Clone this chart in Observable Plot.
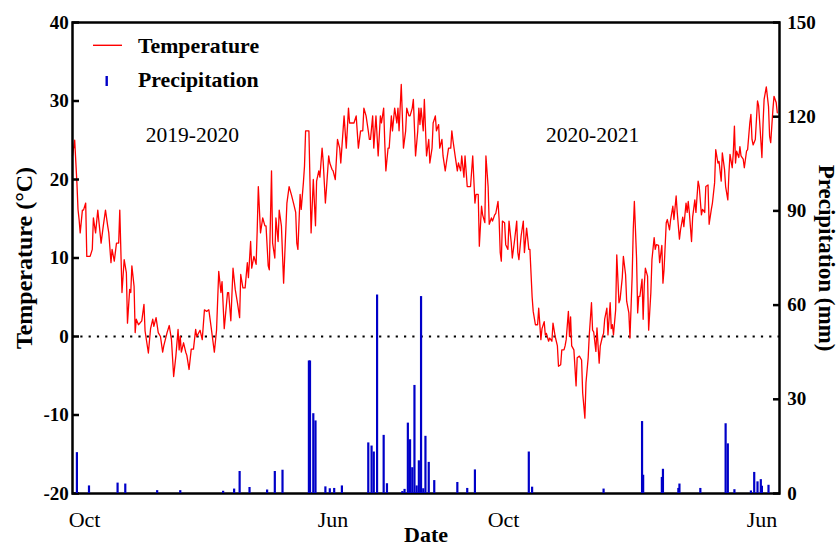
<!DOCTYPE html>
<html><head><meta charset="utf-8">
<script src="https://cdn.jsdelivr.net/npm/d3@7"></script>
<script src="https://cdn.jsdelivr.net/npm/@observablehq/plot@0.6"></script>
<style>
body{margin:0;background:#fff}
#wrap{position:relative;width:840px;height:547px;background:#fff}
#wrap > svg{position:absolute;left:0;top:0}
</style></head><body><div id="wrap"></div>
<script>
// Daily series (day index since start of record)
const tempDay = [0,2,4,5,6,7,9,10,12,13,16,18,19,21,23,26,28,30,32,33,35,36,38,40,42,43,45,47,49,50,52,53,54,56,57,58,60,63,65,66,69,71,73,74,76,78,80,82,83,86,88,90,92,94,96,97,98,99,101,103,104,106,108,110,112,113,116,118,120,122,124,126,129,131,133,135,136,138,141,142,144,146,148,150,152,153,155,157,159,160,162,163,165,167,168,169,171,173,175,176,178,179,181,182,184,185,187,188,190,
192,195,197,199,201,203,204,205,207,208,210,211,212,215,217,219,221,222,224,225,227,228,230,231,233,234,236,237,239,241,243,244,247,249,251,252,254,256,258,260,262,264,265,267,269,270,271,273,274,276,278,280,281,283,284,285,287,288,290,291,293,295,296,297,299,301,303,304,306,307,309,310,312,314,315,316,317,319,320,322,324,325,327,328,330,331,333,334,336,337,339,340,342,344,345,346,348,350,351,353,354,356,357,359,360,362,364,366,367,369,370,372,373,375,376,378,379,381,382,384,385,387,388,389,390,391,393,394,396,397,399,400,402,404,405,406,408,410,411,413,414,415,416,
418,419,421,423,424,426,427,429,430,431,433,434,436,437,439,441,442,444,445,447,448,449,451,452,453,454,456,458,459,461,463,464,466,467,469,470,472,473,474,476,477,479,480,482,483,484,486,487,489,490,491,492,494,495,497,498,500,501,503,504,506,507,509,510,511,513,514,515,516,518,519,520,521,523,524,526,527,529,530,531,533,534,536,537,538,540,541,543,544,546,547,549,550,552,553,555,556,558,559,560,561,563,564,566,567,569,570,572,573,575,576,578,579,581,582,584,585,587,588,590,591,593,594,596,597,598,600,601,602,603,604,606,607,608,610,611,613,614,616,
617,618,619,621,623,624,626,627,628,629,631,633,634,635,637,638,640,641];
const tempC = [23,25,19.6,16.2,14.9,13.2,16.1,16.1,17,10.2,10.2,11.1,15.1,13.2,16.1,11.9,14.1,16.1,14.1,13.2,9.4,11.1,9.6,11.9,11.9,16.1,5.6,9.8,8.1,1.7,6,5.6,9,6.4,0.5,2.2,1.5,2,4.1,0.7,-2.1,1,2.2,1.3,2.4,0.5,0,-2,-1.2,0.5,1.4,-0.4,-5.1,-2.5,0.9,-1.7,0,-2,-0.8,-2,-2.4,-4.2,-1.6,-1.6,0.9,0,0.8,-0.4,3.4,3.2,3.4,1.3,-2,0.8,8.3,5.6,7,1,5.6,5.6,2,8.7,6,4.3,2.4,7.9,6.2,6.2,9.4,7.5,12.1,8.7,10.2,9.2,13.6,19.1,13.2,15.1,14.1,14.1,9,8.5,21.1,11.9,10,15.1,12.1,16.1,14.1,
6.8,17,19.1,18.1,17,15.8,11.9,11.1,18.1,16.2,19.6,21.7,26.2,26.2,13.2,20,14.1,19.8,21.1,20.3,24,22.3,17,18.9,23,22.1,21.3,21.1,20,25.1,24,22.1,28.1,24,29.1,27.2,27.2,27.2,28.1,24,26.2,26.2,29.1,28.1,26.2,25.1,25.1,28.1,24,28.1,23,28.1,27.2,29.1,24.7,21.1,24,24,28.1,26.2,29.1,27.2,29.1,26.2,32.1,24,26.2,29.1,28.1,28.1,29.1,30.2,23,26.2,29.1,27,29.1,26.2,30.2,23,25.1,22.1,24,27.2,28.1,26.2,27,24,25.1,23,21.1,22.1,24,24,26.2,25,23,21.1,22.1,21.1,23,20.3,23,19.1,19.1,19.1,23,17,18.1,18.1,11.5,16.6,15.5,14.5,23,19.1,14.3,15.1,14.7,15.5,15.7,17.2,14.9,10.7,9.6,14.7,14.5,11.7,11.1,14.7,12,10,12.2,14.7,10.7,9.8,12.8,14.7,10.7,13.8,12.5,11.1,11.1,
5.1,3.2,1.5,1.5,3.6,-0.4,1,1.9,0.2,0.4,-0.6,-0.2,-0.6,1.7,0,-1.2,-3.8,-3.6,-1.7,-1.7,-1.2,-0.4,3.2,0,2.5,-1.2,-1.7,-6.3,-2.7,-2.5,-3,-7.2,-10.4,-5.9,-2.7,0.2,4.3,0.8,0.6,-1.9,1.1,-3.4,-1.2,0,0.4,2.2,3.6,0.2,4.3,1,1.5,0.2,3.4,10.4,4.3,4.7,7.5,10.2,7.9,4.5,3,-0.2,7.7,13.6,17.2,10,3,5.1,5.1,7.3,2.2,6.5,8.7,7.7,0.8,5.6,9.8,12.6,11.1,11.7,11.6,9.4,11.6,6.8,8.5,14.5,14.9,13.6,14.9,16.6,14.9,17.9,15.8,12.4,13.6,15.2,14,17,15.8,17.2,15.8,12.1,15.2,17.4,15.8,19.8,19.1,15.5,16.2,15.8,19.1,19.3,14.3,16.2,17,19.6,23.8,22.1,22.3,19.8,23.4,21.3,19.1,17.4,20.8,23.2,21.5,23.4,26.8,22.1,23.6,22.8,24.2,23,22.6,21.5,23.6,23.8,27.2,
28.3,25.1,24.4,25.1,30,29.4,25.1,22.8,27,30.2,31.8,29.3,25.5,24.7,28.9,30.6,29.8,28.5];

const precipDay = [4,15,41,48,77,98,137,147,152,161,177,184,191,215,216,219,221,230,234,238,245,269,272,274,277,283,286,300,302,305,307,309,311,313,315,317,319,321,324,329,350,359,366,415,418,483,518,519,536,537,551,552,571,594,596,602,617,620,623,626,627,633];
const precipMm = [12.6,2,2.9,2.6,0.5,0.5,0.3,1,6.6,1.5,0.7,6.6,7,41.8,41.8,25,22.7,1.7,1.1,1.2,2,15.7,14.7,12.8,62.8,18.1,2.7,0.2,0.9,22,16.7,7.8,34,2,10,62.3,1.1,17.8,9.5,3.7,3.1,1.2,7.1,12.8,1.6,1,22.5,5.4,4.7,7.3,1.2,2.6,1.2,21.8,15.4,0.8,0.4,6.3,3.3,4,1.9,2.2];

const tickDay = [11, 237, 392, 627];
const tickLabel = ["Oct", "Jun", "Oct", "Jun"];
const tempTicks = [-20, -10, 0, 10, 20, 30, 40];
const precipTicks = [0, 30, 60, 90, 120, 150];
const seasonDay = [109, 473];
const seasonLabel = ["2019-2020", "2020-2021"];

const temp = tempDay.map((d, i) => ({day: d, t: tempC[i]}));
const precip = precipDay.map((d, i) => ({day: d, mm: precipMm[i]}));
const seasons = seasonDay.map((d, i) => ({day: d, label: seasonLabel[i]}));

const serif = "'Liberation Serif','Times New Roman',serif";
const common = {width: 840, height: 547, marginLeft: 72, marginRight: 61, marginTop: 22, marginBottom: 54};
const style = {fontFamily: serif, background: "transparent", overflow: "visible", color: "black"};

const p1 = Plot.plot({
  ...common, style,
  x: {domain: [0, 643]},
  y: {domain: [-20, 40]},
  marks: [
    Plot.ruleY([0], {stroke: "black", strokeWidth: 2.2, strokeDasharray: "2.2,6.1"}),
    Plot.line(temp, {x: "day", y: "t", stroke: "#ff0000", strokeWidth: 1.3}),
    Plot.text(seasons, {x: "day", y: () => 25.7, text: "label", fontSize: 21.5, lineAnchor: "middle"}),
    Plot.axisY(tempTicks, {anchor: "left", tickSize: -7, tickPadding: 10.7, fontSize: 19, fontWeight: "bold", strokeWidth: 2.5, tickFormat: d => String(d), label: null}),
    Plot.axisX(tickDay, {anchor: "bottom", tickSize: 0, tickPadding: 18, fontSize: 22, tickFormat: d => tickLabel[tickDay.indexOf(d)], label: null}),
    Plot.text(["Temperature (°C)"], {frameAnchor: "left", dx: -48, rotate: -90, textAnchor: "middle", lineAnchor: "middle", fontSize: 24, fontWeight: "bold"}),
    Plot.text(["Date"], {frameAnchor: "bottom", dy: 41, textAnchor: "middle", lineAnchor: "middle", fontSize: 22, fontWeight: "bold"}),
    Plot.frame({stroke: "black", strokeWidth: 2.5})
  ]
});

const p2 = Plot.plot({
  ...common, style,
  x: {domain: [0, 643], axis: null},
  y: {domain: [0, 150]},
  marks: [
    Plot.ruleX(precip, {x: "day", y: "mm", stroke: "#0000c8", strokeWidth: 2.2, insetBottom: 1.3}),
    Plot.axisY(precipTicks, {anchor: "right", tickSize: -7, tickPadding: 14.7, fontSize: 19, fontWeight: "bold", strokeWidth: 2.5, tickFormat: d => String(d), label: null}),
    Plot.text(["Precipitation (mm)"], {frameAnchor: "right", dx: 47, rotate: 90, textAnchor: "middle", lineAnchor: "middle", fontSize: 23, fontWeight: "bold"})
  ]
});

const wrap = document.getElementById("wrap");
wrap.appendChild(p1);
wrap.appendChild(p2);

// Legend
const lg = d3.create("svg").attr("width", 840).attr("height", 547).style("position", "absolute").style("left", 0).style("top", 0)
  .style("font-family", serif);
lg.append("line").attr("x1", 93).attr("x2", 122).attr("y1", 45.3).attr("y2", 45.3).attr("stroke", "#ff0000").attr("stroke-width", 1.4);
lg.append("text").attr("x", 138).attr("y", 52.7).attr("font-size", 21.8).attr("font-weight", "bold").text("Temperature");
lg.append("rect").attr("x", 105.5).attr("y", 76).attr("width", 2.4).attr("height", 10).attr("fill", "#0000c8");
lg.append("text").attr("x", 138).attr("y", 86.7).attr("font-size", 21.8).attr("font-weight", "bold").text("Precipitation");
wrap.appendChild(lg.node());
</script>
</body></html>
